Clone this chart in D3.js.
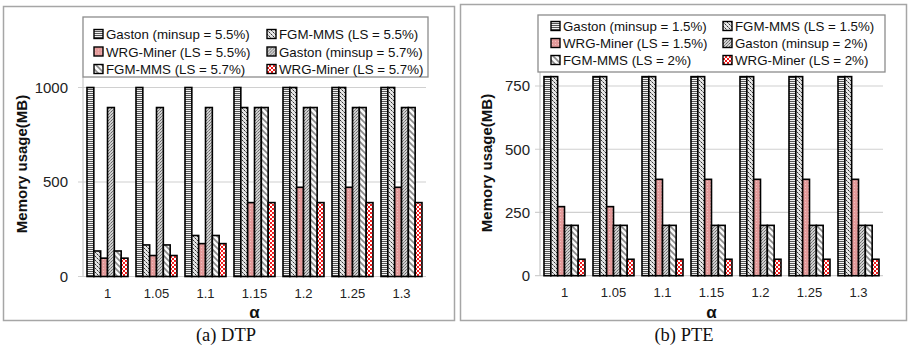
<!DOCTYPE html>
<html><head><meta charset="utf-8">
<script src="https://cdn.jsdelivr.net/npm/d3@7/dist/d3.min.js"></script>
<style>body{margin:0;background:#fff}svg{display:block}</style>
</head><body>
<svg id="c" width="910" height="347"></svg>
<script>
const categories = ["1","1.05","1.1","1.15","1.2","1.25","1.3"];

const seriesDTP = ["Gaston (minsup = 5.5%)","FGM-MMS (LS = 5.5%)","WRG-Miner (LS = 5.5%)","Gaston (minsup = 5.7%)","FGM-MMS (LS = 5.7%)","WRG-Miner (LS = 5.7%)"];
const gastonDTP55 = [1000,1000,1000,1000,1000,1000,1000];
const fgmDTP55    = [135,167,217,894,1000,1000,1000];
const wrgDTP55    = [97,111,174,391,472,472,472];
const gastonDTP57 = [894,894,894,894,894,894,894];
const fgmDTP57    = [135,167,217,894,894,894,894];
const wrgDTP57    = [97,111,174,391,391,391,391];
const ticksDTP = [0,500,1000];

const seriesPTE = ["Gaston (minsup = 1.5%)","FGM-MMS (LS = 1.5%)","WRG-Miner (LS = 1.5%)","Gaston (minsup = 2%)","FGM-MMS (LS = 2%)","WRG-Miner (LS = 2%)"];
const gastonPTE15 = [787,787,787,787,787,787,787];
const fgmPTE15    = [787,787,787,787,787,787,787];
const wrgPTE15    = [273,273,381,381,381,381,381];
const gastonPTE2  = [199,199,199,199,199,199,199];
const fgmPTE2     = [199,199,199,199,199,199,199];
const wrgPTE2     = [65,65,65,65,65,65,65];
const ticksPTE = [0,250,500,750];

const svg = d3.select("#c");
const defs = svg.append("defs");

// patterns
function pat(id,w,h,build){const p=defs.append("pattern").attr("id",id).attr("patternUnits","userSpaceOnUse").attr("width",w).attr("height",h);build(p);}
pat("p0",4,2,p=>{p.append("rect").attr("width",4).attr("height",2).attr("fill","#f2f2f2");p.append("rect").attr("y",1).attr("width",4).attr("height",1).attr("fill","#555");});
pat("p1",4,4,p=>{p.append("rect").attr("width",4).attr("height",4).attr("fill","#e6e6e6");
  p.append("rect").attr("x",0).attr("y",0).attr("width",1).attr("height",1).attr("fill","#333");
  p.append("rect").attr("x",2).attr("y",2).attr("width",1).attr("height",1).attr("fill","#333");
  p.append("rect").attr("x",1).attr("y",1).attr("width",1).attr("height",1).attr("fill","#888");
  p.append("rect").attr("x",3).attr("y",3).attr("width",1).attr("height",1).attr("fill","#888");});
pat("p2",3,3,p=>{p.append("rect").attr("width",3).attr("height",3).attr("fill","#e39a9a");p.append("rect").attr("x",1).attr("y",1).attr("width",1).attr("height",1).attr("fill","#f0c0c0");});
pat("p3",3,3,p=>{p.append("rect").attr("width",3).attr("height",3).attr("fill","#d0d0d0");p.append("rect").attr("x",0).attr("y",0).attr("width",1).attr("height",1).attr("fill","#666");p.append("rect").attr("x",2).attr("y",1).attr("width",1).attr("height",1).attr("fill","#888");p.append("rect").attr("x",1).attr("y",2).attr("width",1).attr("height",1).attr("fill","#777");});
pat("p4",6,6,p=>{p.append("rect").attr("width",6).attr("height",6).attr("fill","#fafafa");p.append("path").attr("d","M0,0 L6,6 M-3,3 L3,9 M3,-3 L9,3").attr("stroke","#8a8a8a").attr("stroke-width",1.6);});
pat("p5",4,4,p=>{p.append("rect").attr("width",4).attr("height",4).attr("fill","#f01c1c");p.append("rect").attr("x",0).attr("y",0).attr("width",2).attr("height",2).attr("fill","#fff");p.append("rect").attr("x",2).attr("y",2).attr("width",2).attr("height",2).attr("fill","#fff");});
const fills = ["url(#p0)","url(#p1)","url(#p2)","url(#p3)","url(#p4)","url(#p5)"];

function panel(cfg){
  const g = svg.append("g");
  g.append("rect").attr("x",cfg.box[0]).attr("y",cfg.box[1]).attr("width",cfg.box[2]).attr("height",cfg.box[3])
    .attr("fill","none").attr("stroke","#a6a6a6").attr("stroke-width",1.5);
  const x0 = d3.scaleBand().domain(categories).range([cfg.left,cfg.right]).paddingInner(0.163).paddingOuter(0.0815);
  const x1 = d3.scaleBand().domain(d3.range(cfg.series.length)).range([0,x0.bandwidth()]);
  const y = d3.scaleLinear().domain([0,cfg.max]).range([cfg.bottom,cfg.top]);
  // grid
  g.selectAll("line.grid").data(cfg.ticks).join("line")
    .attr("x1",cfg.left-5).attr("x2",cfg.right).attr("y1",d=>y(d)).attr("y2",d=>y(d))
    .attr("stroke","#d0d0d0").attr("stroke-width",1.2);
  g.append("line").attr("x1",cfg.left).attr("x2",cfg.left).attr("y1",cfg.legBox[1]+cfg.legBox[3]).attr("y2",cfg.bottom)
    .attr("stroke","#c8c8c8").attr("stroke-width",1.2);
  // y tick labels
  const ya = d3.axisLeft(y).tickValues(cfg.ticks).tickFormat(d3.format("d")).tickSize(0).tickPadding(cfg.tickPad);
  const yg = g.append("g").attr("transform",`translate(${cfg.left},0)`).call(ya);
  yg.select(".domain").remove();
  yg.selectAll("text").attr("font-family","Liberation Sans, Arial, sans-serif").attr("font-size",15).attr("fill","#222");
  // x tick labels
  const xa = d3.axisBottom(x0).tickSize(0).tickPadding(12);
  const xg = g.append("g").attr("transform",`translate(0,${cfg.bottom})`).call(xa);
  xg.select(".domain").remove();
  xg.selectAll("text").attr("font-family","Liberation Sans, Arial, sans-serif").attr("font-size",13).attr("fill","#222");
  // bars
  const grp = g.selectAll("g.cat").data(categories).join("g").attr("transform",d=>`translate(${x0(d)},0)`);
  grp.selectAll("rect").data((c,ci)=>cfg.values.map((arr,si)=>({si,v:arr[ci]}))).join("rect")
    .attr("x",d=>x1(d.si)).attr("width",x1.bandwidth())
    .attr("y",d=>y(d.v)).attr("height",d=>y(0)-y(d.v))
    .attr("fill",d=>fills[d.si]).attr("stroke","#000").attr("stroke-width",1.6);
  // axis titles
  g.append("text").attr("transform",`translate(${cfg.ytitleX},${cfg.ytitleY}) rotate(-90)`)
    .attr("text-anchor","middle").attr("font-family","Liberation Sans, Arial, sans-serif").attr("font-weight","bold")
    .attr("font-size",15).attr("fill","#111").text("Memory usage(MB)");
  g.append("text").attr("x",(cfg.left+cfg.right)/2).attr("y",318).attr("text-anchor","middle")
    .attr("font-family","Liberation Sans, Arial, sans-serif").attr("font-weight","bold").attr("font-size",17).attr("fill","#111").text("α");
  // legend
  const lb = cfg.legBox;
  g.append("rect").attr("x",lb[0]).attr("y",lb[1]).attr("width",lb[2]).attr("height",lb[3]).attr("fill","#fff").attr("stroke","#8c8c8c").attr("stroke-width",1.3);
  const items = g.selectAll("g.leg").data(cfg.series).join("g")
    .attr("transform",(d,i)=>`translate(${cfg.legCols[i%2]},${cfg.legRows[Math.floor(i/2)]})`);
  items.append("rect").attr("x",0).attr("y",-4.5).attr("width",9).attr("height",9).attr("fill",(d,i)=>fills[i]).attr("stroke","#000").attr("stroke-width",1.4);
  items.append("text").attr("x",12).attr("y",5).attr("font-family","Liberation Sans, Arial, sans-serif").attr("font-size",13.3).attr("fill","#111").text(d=>d);
  // caption
  svg.append("text").attr("x",cfg.capX).attr("y",341).attr("text-anchor","middle").attr("font-family","Liberation Serif, Times New Roman, serif")
    .attr("font-size",18.5).attr("fill","#111").text(cfg.caption);
}

panel({box:[3.5,6.5,451,314], left:83, right:426, top:87.5, bottom:276.5, max:1000, ticks:ticksDTP, tickPad:15,
  series:seriesDTP, values:[gastonDTP55,fgmDTP55,wrgDTP55,gastonDTP57,fgmDTP57,wrgDTP57],
  ytitleX:27, ytitleY:164, legBox:[83,17,345,60], legCols:[94,267], legRows:[34,51.5,69], capX:226, caption:"(a) DTP"});
panel({box:[460.5,4.5,446,316], left:540, right:883, top:86, bottom:275.7, max:750, ticks:ticksPTE, tickPad:10,
  series:seriesPTE, values:[gastonPTE15,fgmPTE15,wrgPTE15,gastonPTE2,fgmPTE2,wrgPTE2],
  ytitleX:492, ytitleY:163, legBox:[538,15,347,57], legCols:[551,723], legRows:[26,43,60], capX:684, caption:"(b) PTE"});
</script>
</body></html>
